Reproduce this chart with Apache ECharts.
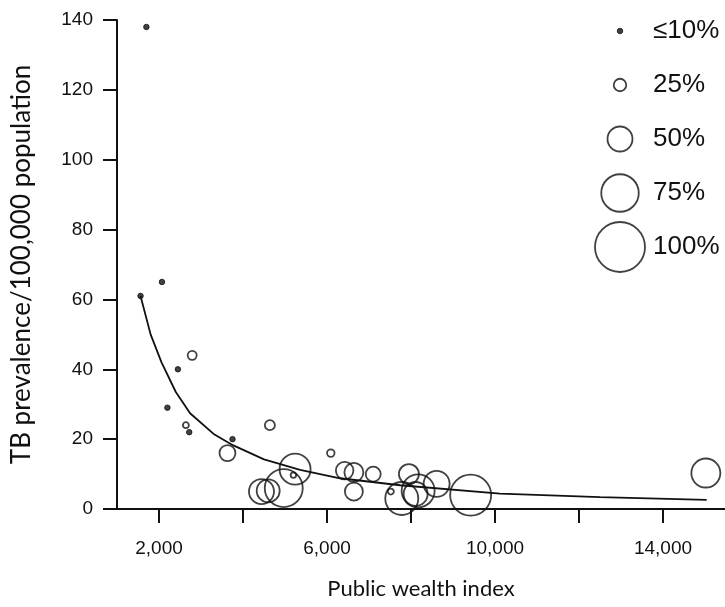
<!DOCTYPE html>
<html>
<head>
<meta charset="utf-8">
<script src="https://cdn.jsdelivr.net/npm/echarts@6/dist/echarts.min.js"></script>
<style>
html,body{margin:0;padding:0;background:#fff;}
#chart{width:725px;height:607px;}
</style>
</head>
<body>
<div id="chart"></div>
<script>
// Public wealth index (x), TB prevalence per 100,000 (y), bubble percentage (size)
const wealth     = [1700, 2070, 1560, 2450, 2200, 2720, 3750, 2790, 2640, 4640, 3630, 6090, 5200, 7520, 4440, 4600, 4970, 5240, 6420, 6640, 7100, 6640, 7950, 7780, 8170, 8110, 8610, 9420, 15020];
const prevalence = [138,   65,   61,   40,   29,   22,   20,   44,   24,   24,   16,   16,   9.7,  5,    5,    5.2,  6,    11.4, 11,   10.5, 10,   5,    10,   3,    5.2,  4.3,  7.2,  4,    10.3];
const sizePct    = [8,     8,    8,    8,    8,    8,    8,    18,   12,   20,   32,   15,   11,   12,   50,   46,   76,   62,   35,   38,   30,   36,   40,   66,   66,   48,   52,   82,   58];

// fitted curve, points
const curveX = [1560, 1800, 2060, 2400, 2740, 3300, 3770, 4500, 5360, 6310, 7740, 10120, 12500, 15040];
const curveY = [61,   50,   42,   33.5, 27.4, 21.5, 18.2, 14.2, 11.2, 8.8,  6.8,  4.4,   3.4,   2.6];

const xTicks = [2000, 4000, 6000, 8000, 10000, 12000, 14000];
const xTickLabels = [2000, 6000, 10000, 14000];

const legendLabels = ['\u226410%', '25%', '50%', '75%', '100%'];
const legendPct = [10, 25, 50, 75, 100];

const SIZE_K = 0.5;
const ink = '#111111';

function bubbleItem(x, y, p) {
  const filled = p <= 10;
  return {
    value: [x, y, p],
    symbolSize: filled ? 5.5 : p * SIZE_K,
    itemStyle: {
      color: filled ? ink : 'rgba(0,0,0,0)',
      borderColor: ink,
      borderWidth: filled ? 1 : 1.8
    }
  };
}

const chart = echarts.init(document.getElementById('chart'), null, {renderer: 'canvas'});
chart.setOption({
  animation: false,
  backgroundColor: '#fff',
  grid: [
    {left: 117, right: 0, top: 20, bottom: 98},
    {left: 600, width: 40, top: 4, height: 270}
  ],
  xAxis: [
    {
      type: 'value', gridIndex: 0, min: 1000, max: 15476,
      name: 'Public wealth index', nameLocation: 'middle', nameGap: 69,
      nameTextStyle: {fontFamily: 'Lato', fontSize: 22, color: ink},
      axisLine: {lineStyle: {color: ink, width: 2}},
      axisTick: {show: true, inside: false, length: 14, lineStyle: {color: ink, width: 2}, customValues: xTicks},
      axisLabel: {customValues: xTickLabels, margin: 30, fontFamily: 'Liberation Sans', fontSize: 19, color: ink,
        formatter: v => Number(v).toLocaleString('en-US')},
      splitLine: {show: false}
    },
    {type: 'value', gridIndex: 1, min: -1, max: 1, show: false}
  ],
  yAxis: [
    {
      type: 'value', gridIndex: 0, min: 0, max: 140, interval: 20,
      name: 'TB prevalence/100,000 population', nameLocation: 'middle', nameGap: 82,
      nameTextStyle: {fontFamily: 'Lato', fontSize: 26, color: ink},
      axisLine: {show: true, lineStyle: {color: ink, width: 2}},
      axisTick: {show: true, inside: false, length: 14, lineStyle: {color: ink, width: 2}},
      axisLabel: {margin: 24, fontFamily: 'Liberation Sans', fontSize: 19, color: ink},
      splitLine: {show: false}
    },
    {
      type: 'category', gridIndex: 1, data: legendLabels, inverse: true, position: 'right',
      axisLine: {show: false}, axisTick: {show: false}, splitLine: {show: false},
      axisLabel: {margin: 13, align: 'left', fontFamily: 'Liberation Sans', fontSize: 26, color: ink}
    }
  ],
  series: [
    {
      type: 'line', xAxisIndex: 0, yAxisIndex: 0,
      data: curveX.map((x, i) => [x, curveY[i]]),
      showSymbol: false, smooth: false,
      lineStyle: {color: ink, width: 1.8}, z: 2
    },
    {
      type: 'scatter', xAxisIndex: 0, yAxisIndex: 0,
      data: wealth.map((x, i) => bubbleItem(x, prevalence[i], sizePct[i])), z: 3
    },
    {
      type: 'scatter', xAxisIndex: 1, yAxisIndex: 1,
      data: legendLabels.map((l, i) => bubbleItem(0, l, legendPct[i]))
    }
  ]
});
</script>
</body>
</html>
